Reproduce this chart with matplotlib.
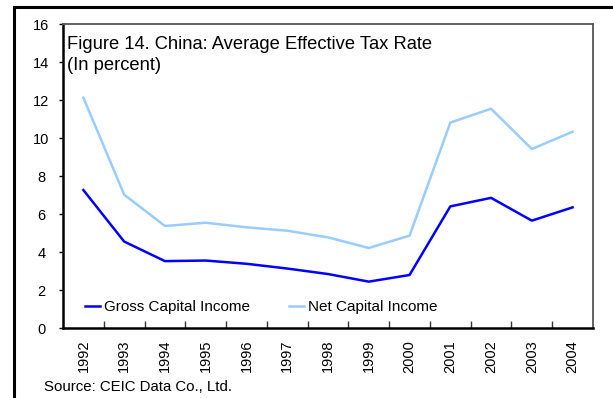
import matplotlib
matplotlib.use("Agg")
import matplotlib.pyplot as plt
from matplotlib.lines import Line2D

years = ["1992", "1993", "1994", "1995", "1996", "1997", "1998",
         "1999", "2000", "2001", "2002", "2003", "2004"]
gross_capital = [7.26, 4.55, 3.52, 3.55, 3.38, 3.13, 2.84,
                 2.44, 2.79, 6.40, 6.85, 5.65, 6.35]
net_capital = [12.12, 7.02, 5.37, 5.54, 5.30, 5.12, 4.77,
               4.21, 4.86, 10.81, 11.54, 9.42, 10.33]
y_ticks = [0, 2, 4, 6, 8, 10, 12, 14, 16]

plt.rcParams["font.family"] = ["Liberation Sans", "DejaVu Sans"]

W, H = 613, 398
fig = plt.figure(figsize=(W / 100, H / 100), dpi=100)
ax = fig.add_axes([63 / W, 1 - 328 / H, (593 - 63) / W, (328 - 24) / H])

x = list(range(len(years)))
ax.plot(x, gross_capital, color="#0000ff", lw=1.8, label="Gross Capital Income")
ax.plot(x, net_capital, color="#99ccff", lw=1.8, label="Net Capital Income")

ax.set_xlim(-0.5, len(years) - 0.5)
ax.set_ylim(0, 16)
ax.set_yticks(y_ticks)
ax.set_yticklabels([str(v) for v in y_ticks], fontsize=10.5)
ax.tick_params(axis="y", direction="out", length=3, width=1, pad=12.5)
for lbl in ax.get_yticklabels():
    lbl.set_horizontalalignment("center")

# category labels centred, tick marks at category boundaries
ax.set_xticks(x)
ax.set_xticklabels(years, rotation=90, fontsize=10.5)
ax.tick_params(axis="x", which="major", length=0, pad=8.5)
ax.set_xticks([i + 0.5 for i in range(len(years) - 1)], minor=True)
ax.tick_params(axis="x", which="minor", direction="in", length=5, width=1, color="#333333")

for side in ("left", "bottom"):
    ax.spines[side].set_color("black")
    ax.spines[side].set_linewidth(1.8)
for side in ("top", "right"):
    ax.spines[side].set_color("#555555")
    ax.spines[side].set_linewidth(1.3)

ax.text(0.008, 0.96, "Figure 14. China: Average Effective Tax Rate\n(In percent)",
        transform=ax.transAxes, fontsize=13.2, va="top", ha="left", linespacing=1.28)

leg = ax.legend(loc="center left", bbox_to_anchor=(0.0415, 0.069), ncol=2, frameon=False,
                fontsize=11, handlelength=0.98, handletextpad=0.26, columnspacing=2.55,
                borderpad=0, borderaxespad=0)

fig.text(44 / W, 1 - 387 / H, "Source: CEIC Data Co., Ltd.", fontsize=10.8,
         ha="left", va="center")

# outer frame: top and left rules
fig.add_artist(Line2D([14 / W, 1], [1 - 6.5 / H, 1 - 6.5 / H], color="black", lw=2.2,
                      transform=fig.transFigure))
fig.add_artist(Line2D([14 / W, 14 / W], [0, 1 - 6.5 / H], color="black", lw=2.2,
                      transform=fig.transFigure))

fig.savefig("out.png", dpi=100)
